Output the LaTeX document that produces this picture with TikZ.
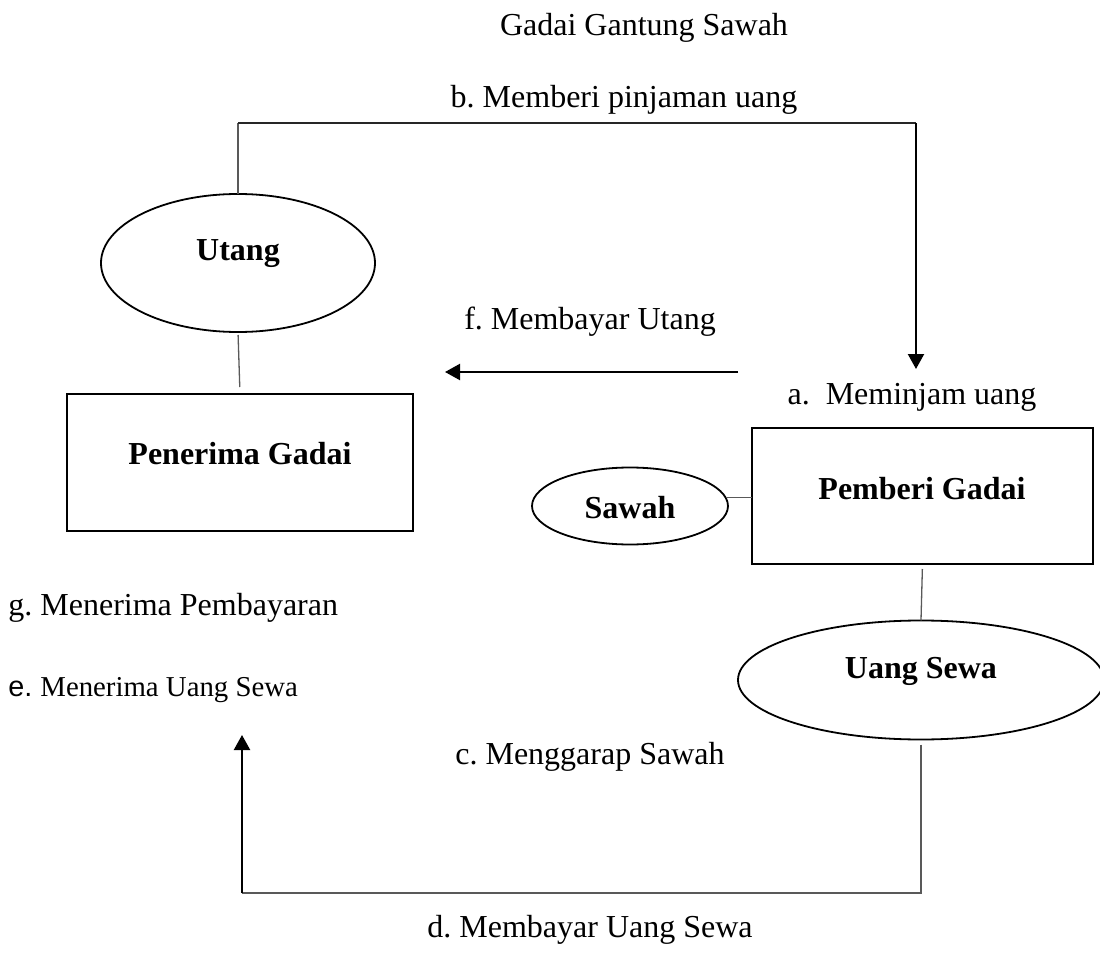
\documentclass[tikz,border=0pt]{standalone}
\usepackage{fontspec}
\setmainfont{Liberation Serif}
\newfontfamily\arialf{Liberation Sans}
\usetikzlibrary{shapes.geometric,arrows.meta}
\frenchspacing
\begin{document}
\begin{tikzpicture}[x=0.5pt,y=-0.5pt,
  txt/.style={font=\fontsize{16pt}{19pt}\selectfont, inner sep=0pt},
  smalltxt/.style={font=\fontsize{14.4pt}{17pt}\selectfont, inner sep=0pt},
  bold/.style={font=\fontsize{16pt}{19pt}\selectfont\bfseries, inner sep=0pt},
  oval/.style={draw=black, line width=0.9pt, ellipse, inner sep=0pt, outer sep=0pt},
  box/.style={draw=black, line width=0.9pt, rectangle, inner sep=0pt, outer sep=0pt},
  conn/.style={draw=black!65, line width=0.65pt},
  darkconn/.style={draw=black!85, line width=0.65pt},
  arr/.style={draw=black, line width=1.1pt, -{Triangle[length=7.5pt,width=8pt]}}
]
\useasboundingbox (0,0) rectangle (1100,958);

% shapes
\node[oval, minimum width=137pt, minimum height=69pt] (utang) at (238,263) {};
\node[box, minimum width=173pt, minimum height=68.5pt] (pen) at (240,462.5) {};
\node[box, minimum width=170.5pt, minimum height=68pt] (pem) at (922.5,496) {};
\node[oval, minimum width=98pt, minimum height=38.5pt] (sawah) at (630,506) {};
\node[oval, minimum width=183pt, minimum height=59.5pt] (us) at (921,680) {};

% texts in shapes
\node[bold] (tutang) at (238,254) {Utang};
\node[bold] (tpen) at (240,454) {Penerima Gadai};
\node[bold] (tsawah) at (630,508) {Sawah};
\node[bold] (tpem) at (922,489) {Pemberi Gadai};
\node[bold] (tus) at (921,671) {Uang Sewa};

% labels
\node[txt] (title) at (644,28) {Gadai Gantung Sawah};
\node[txt] (lb) at (624,100) {b. Memberi pinjaman uang};
\node[txt] (lf) at (590,322) {f. Membayar Utang};
\node[txt] (la) at (912,397) {a.\ \ Meminjam uang};
\node[txt, anchor=west] (lg) at (8,608) {g. Menerima Pembayaran};
\node[smalltxt, anchor=west] (le) at (8,690) {{\arialf e. }Menerima Uang Sewa};
\node[txt] (lc) at (590,757) {c. Menggarap Sawah};
\node[txt] (ld) at (590,930) {d. Membayar Uang Sewa};

% coordinates for connector bends and free ends
\coordinate (bTL) at (238,123);
\coordinate (bTR) at (916,123);
\coordinate (aTip) at (916,369);
\coordinate (fStart) at (738,372);
\coordinate (fTip) at (445,372);
\coordinate (dBR) at (921,893);
\coordinate (dBL) at (242,893);
\coordinate (eTip) at (242,735);

% connectors
\draw[conn] (utang.north) -- (bTL);
\draw[darkconn] (bTL) -- (bTR);
\draw[arr] (bTR) -- (aTip);
\draw[arr] (fStart) -- (fTip);
\draw[conn, shorten <=1.5pt, shorten >=3.5pt] (utang.south) -- (pen.north);
\draw[conn] (sawah.5) -- (sawah.5 -| pem.west);
\draw[conn, shorten <=2.5pt] (pem.south) -- (us.north);
\draw[conn, shorten <=2.5pt] (us.south) -- (dBR) -- (dBL);
\draw[arr] (dBL) -- (eTip);
\end{tikzpicture}
\end{document}
